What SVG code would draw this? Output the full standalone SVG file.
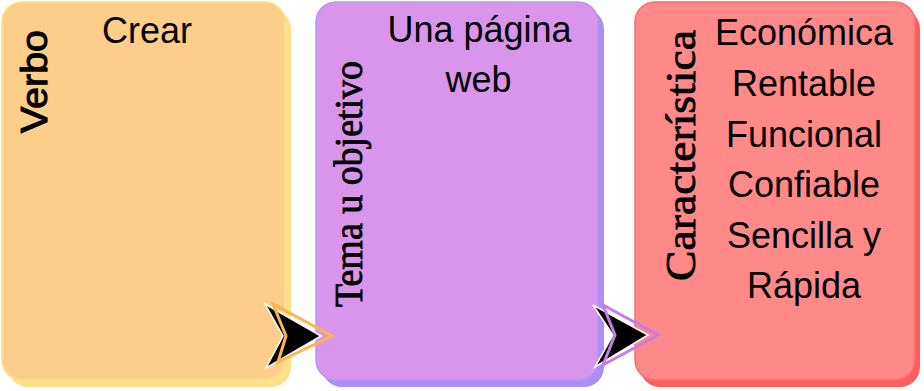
<svg xmlns="http://www.w3.org/2000/svg" width="924" height="391" viewBox="0 0 924 391">
<style>
.body{font-family:"Liberation Sans",Arial,sans-serif;font-size:36px;fill:#000;text-anchor:middle}
.vs{font-family:"Liberation Sans",Arial,sans-serif;font-size:36px;fill:#000;stroke:#000;stroke-width:1}
.vser{font-family:"Liberation Serif","Times New Roman",serif;font-size:40px;fill:#000;stroke:#000;stroke-width:0.8}
.chev{fill:#000;stroke:#fff;stroke-width:1.5;stroke-linejoin:miter}
.out{fill:none;stroke-width:3;stroke-linejoin:miter}
</style>
<rect width="924" height="391" fill="#fff"/>
<g id="node-verbo">
  <rect x="8" y="9" width="283" height="378" rx="20" fill="#FFE08A"/>
  <rect x="2" y="2" width="283" height="378" rx="20" fill="#FDCD8A" stroke="#FFE08A" stroke-width="1.5"/>
  <text class="vs" transform="translate(47,133) rotate(-90)" textLength="103" lengthAdjust="spacingAndGlyphs">Verbo</text>
  <text class="body" x="147" y="43">Crear</text>
</g>
<g id="node-tema">
  <rect x="322" y="9" width="282" height="378" rx="20" fill="#A98FF7"/>
  <rect x="316" y="2" width="282" height="378" rx="20" fill="#D895EB" stroke="#B596F5" stroke-width="1.5"/>
  <text class="vser" transform="translate(362,307) rotate(-90)" textLength="246" lengthAdjust="spacingAndGlyphs">Tema u objetivo</text>
  <text class="body" x="479.5" y="42">Una página</text>
  <text class="body" x="478.5" y="92">web</text>
</g>
<g id="node-caracteristica">
  <rect x="640" y="9" width="280" height="378" rx="20" fill="#FF5E5E"/>
  <rect x="635" y="2" width="280" height="378" rx="20" fill="#FF8888" stroke="#FF6B6B" stroke-width="1.5"/>
  <text class="vser" transform="translate(695,281) rotate(-90)" textLength="251" lengthAdjust="spacingAndGlyphs" style="font-size:42px">Característica</text>
  <text class="body" x="804" y="45">Económica</text>
  <text class="body" x="804" y="96">Rentable</text>
  <text class="body" x="804" y="146.5">Funcional</text>
  <text class="body" x="804" y="197">Confiable</text>
  <text class="body" x="804" y="248">Sencilla y</text>
  <text class="body" x="804" y="298">Rápida</text>
</g>
<g id="connectors">
  <polygon class="chev" points="265,304 321,336 266,368 283,336"/>
  <polygon class="out" stroke="#FDB54A" points="273,304 332,336 278,362 286,336"/>
  <polygon class="chev" points="593,305 648,335 595,367 613,335"/>
  <polygon class="out" stroke="#C77BE6" points="603,305 658,335 603,365 615,335"/>
</g>
</svg>
